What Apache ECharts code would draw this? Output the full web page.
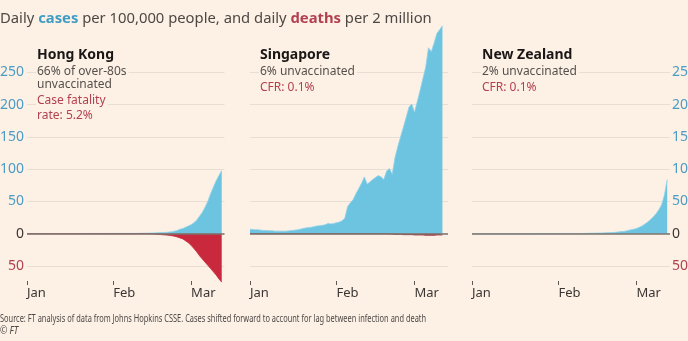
<!DOCTYPE html>
<html>
<head>
<meta charset="utf-8">
<script src="https://cdn.jsdelivr.net/npm/echarts@6/dist/echarts.min.js"></script>
<style>
  html, body { margin: 0; padding: 0; background: #fdf1e6; }
  #chart { width: 688px; height: 341px; }
</style>
</head>
<body>
<div id="chart"></div>
<script>
// Day index 0 = 1 January; axis runs to 13 March
const dayCount = 72;
const days = Array.from({ length: dayCount }, (_, i) => i);
const monthStarts = [0, 31, 59];
const monthLabels = ['Jan', 'Feb', 'Mar'];
const yMin = -50, yMax = 250, yStep = 50;

// Daily cases per 100,000 people (positive) and daily deaths per 2 million (negative)
const hkCases = [
  0.3, 0.3, 0.3, 0.3, 0.3, 0.3, 0.3, 0.3, 0.3, 0.3,
  0.3, 0.3, 0.3, 0.3, 0.3, 0.3, 0.3, 0.3, 0.3, 0.3,
  0.4, 0.4, 0.4, 0.4, 0.4, 0.4, 0.4, 0.4, 0.4, 0.4,
  0.5, 0.5, 0.5, 0.5, 0.5, 0.5, 0.5, 0.5, 0.5, 0.5,
  0.6, 0.7, 0.8, 0.9, 1, 1.1, 1.3, 1.5, 1.7, 1.9,
  2, 2.5, 3, 4, 5, 7, 8, 10, 12, 14,
  17, 21, 27, 33, 41, 50, 62, 72, 82, 90, 98
];
const hkDeaths = [
  0, 0, 0, 0, 0, 0, 0, 0, 0, 0,
  0, 0, 0, 0, 0, 0, 0, 0, 0, 0,
  0, 0, 0, 0, 0, 0, 0, 0, 0, 0,
  0, 0, 0, 0, 0, 0, 0, 0, 0, 0,
  0, 0, 0, 0, 0, -0.3, -0.5, -1, -1.3, -1.7,
  -2, -2.5, -3, -4, -5, -6.5, -8, -11, -14, -18,
  -23, -28, -34, -39, -44, -49, -54, -59, -64, -70, -75
];
const sgCases = [
  7, 6.5, 6, 6, 5.5, 5, 5, 4.5, 4.5, 4,
  4, 4, 4, 4, 4.5, 5, 5.5, 6, 7, 8,
  9, 9.5, 10, 11, 12, 12.5, 13, 14, 16, 15,
  16, 17, 18, 20, 24, 42, 48, 53, 62, 70,
  78, 88, 77, 80, 84, 87, 90, 88, 84, 97,
  101, 92, 118, 135, 150, 165, 180, 196, 201, 188,
  205, 222, 240, 258, 288, 282, 295, 310, 316, 322
];
const sgDeaths = [
  0, 0, 0, 0, 0, 0, 0, 0, 0, 0,
  0, 0, 0, 0, 0, 0, 0, 0, 0, 0,
  0, 0, 0, 0, 0, 0, 0, 0, 0, 0,
  0, 0, 0, 0, 0, 0, 0, 0, 0, 0,
  0, 0, 0, 0, 0, 0, 0, 0, 0, 0,
  -0.5, -0.5, -1, -1, -1, -1.5, -1.5, -1.5, -1.5, -2,
  -2, -2, -2, -2.5, -2.5, -2.5, -2.5, -2, -2, -2
];
const nzCases = [
  0.1, 0.1, 0.1, 0.1, 0.1, 0.1, 0.1, 0.1, 0.1, 0.1,
  0.1, 0.1, 0.1, 0.1, 0.1, 0.1, 0.1, 0.1, 0.1, 0.1,
  0.2, 0.2, 0.2, 0.2, 0.2, 0.2, 0.2, 0.2, 0.2, 0.2,
  0.3, 0.3, 0.3, 0.3, 0.3, 0.3, 0.3, 0.3, 0.3, 0.3,
  0.5, 0.6, 0.7, 0.8, 0.9, 1, 1.1, 1.2, 1.4, 1.6,
  1.8, 2, 2.5, 3, 3.5, 4, 5, 6, 7, 8,
  10, 12, 15, 18, 22, 26, 31, 37, 45, 60, 84
];

const panelNames = ['Hong Kong', 'Singapore', 'New Zealand'];
const panelNotes = [['66% of over-80s', 'unvaccinated'], ['6% unvaccinated'], ['2% unvaccinated']];
const panelCfr = [['Case fatality', 'rate: 5.2%'], ['CFR: 0.1%'], ['CFR: 0.1%']];
const subtitleParts = ['Daily ', 'cases', ' per 100,000 people, and daily ', 'deaths', ' per 2 million'];
const sourceText = 'Source: FT analysis of data from Johns Hopkins CSSE. Cases shifted forward to account for lag between infection and death';
const creditText = '\u00a9 FT';

const BG = '#fdf1e6';
const BLUE = '#6cc4e0';
const RED = '#c8293d';
const BLUE_TXT = '#4a9cc4';
const RED_TXT = '#b3404f';
const GRID = '#e9ded3';
const FONT = '"Noto Sans", "Open Sans", sans-serif';

// Plot areas (one per place), then a thin strip below each carrying the month ticks
const plotBoxes = [
  { left: 27, width: 197.5 },
  { left: 250, width: 198 },
  { left: 472, width: 198 }
];
const grids = plotBoxes.map((b) => ({ left: b.left, width: b.width, top: 72.3, height: 193.7, outerBoundsMode: 'none' }))
  .concat(plotBoxes.map((b) => ({ left: b.left, width: b.width, top: 280, height: 1, outerBoundsMode: 'none' })));

const isMonthStart = (i) => monthStarts.indexOf(i) >= 0;

const xAxes = grids.map((g, k) => {
  const isTickStrip = k >= 3;
  return {
    type: 'category',
    gridIndex: k,
    data: days,
    boundaryGap: false,
    show: isTickStrip,
    axisLine: { show: false },
    axisTick: { show: isTickStrip, interval: (i) => isMonthStart(i), length: 4, lineStyle: { color: '#5e5853', width: 1 } },
    axisLabel: {
      show: isTickStrip,
      interval: (i) => isMonthStart(i),
      formatter: (v, i) => monthLabels[monthStarts.indexOf(i)] || '',
      align: 'left', margin: 6, color: '#3a3533', fontSize: 13, fontFamily: FONT
    },
    splitLine: { show: false }
  };
});

const ySides = ['left', null, 'right'];
const yAxes = grids.map((g, k) => {
  if (k >= 3) {
    return { type: 'value', gridIndex: k, show: false, min: 0, max: 1 };
  }
  const side = ySides[k];
  return {
    type: 'value',
    gridIndex: k,
    position: side === 'right' ? 'right' : 'left',
    min: yMin, max: yMax, interval: yStep,
    axisLine: { show: false },
    axisTick: { show: false },
    axisLabel: {
      show: side !== null,
      formatter: (v) => String(Math.abs(v)),
      color: (v) => (Number(v) > 0 ? BLUE_TXT : Number(v) < 0 ? RED_TXT : '#3a3533'),
      fontSize: 14, fontFamily: FONT,
      margin: side === 'right' ? 2 : 3
    },
    splitLine: { show: true, lineStyle: { color: GRID, width: 1 } }
  };
});

function areaSeries(data, k, color, edge) {
  return {
    type: 'line', xAxisIndex: k, yAxisIndex: k, data: data,
    symbol: 'none', clip: false, silent: true, z: 3,
    lineStyle: { color: edge, width: 0.8 },
    areaStyle: { color: color, opacity: 1 }
  };
}

function baseline(k) {
  return {
    type: 'line', xAxisIndex: k, yAxisIndex: k, data: [], z: 2, silent: true,
    markLine: {
      silent: true, symbol: 'none', label: { show: false },
      lineStyle: { color: '#7a726c', width: 1.6, type: 'solid' },
      data: [{ yAxis: 0 }]
    }
  };
}

const series = [
  baseline(0), baseline(1), baseline(2),
  areaSeries(hkCases, 0, BLUE, '#8fd2e8'),
  areaSeries(hkDeaths, 0, RED, RED),
  areaSeries(sgCases, 1, BLUE, '#8fd2e8'),
  areaSeries(sgDeaths, 1, RED, '#9b3040'),
  areaSeries(nzCases, 2, BLUE, '#8fd2e8')
];

// Panel headings and notes
const graphics = [];
function addText(x, y, text, fill, font) {
  graphics.push({
    type: 'text', x: x, y: y, z: 10, silent: true,
    style: {
      text: text, fill: fill, font: font, verticalAlign: 'middle',
      backgroundColor: BG, padding: [0, 2, 0, 1]
    }
  });
}
plotBoxes.forEach((b, k) => {
  const x = b.left + 9;
  let y = 55;
  addText(x, y, panelNames[k], '#1a1716', 'bold 14px ' + FONT);
  y += 16.5;
  panelNotes[k].forEach((t) => { addText(x, y, t, '#55504c', '12px ' + FONT); y += 13.5; });
  y += 2.5;
  panelCfr[k].forEach((t) => { addText(x, y, t, RED_TXT, '12px ' + FONT); y += 14.5; });
});

// Subtitle with coloured keywords
graphics.push({
  type: 'text', x: 0, y: 19, silent: true,
  style: {
    text: '{a|' + subtitleParts[0] + '}{c|' + subtitleParts[1] + '}{a|' + subtitleParts[2] + '}{d|' + subtitleParts[3] + '}{a|' + subtitleParts[4] + '}',
    verticalAlign: 'middle',
    rich: {
      a: { fill: '#4d4845', font: '14.8px ' + FONT },
      c: { fill: '#3f9cc2', font: 'bold 14.8px ' + FONT },
      d: { fill: '#b3404f', font: 'bold 14.8px ' + FONT }
    }
  }
});

// Source and credit, set in a condensed width
graphics.push({
  type: 'text', x: 0, y: 319, scaleX: 0.675, silent: true,
  style: { text: sourceText, fill: '#4d4845', font: '11px ' + FONT, verticalAlign: 'middle' }
});
graphics.push({
  type: 'text', x: 0, y: 331, scaleX: 0.8, silent: true,
  style: { text: creditText, fill: '#4d4845', font: 'italic 11px ' + FONT, verticalAlign: 'middle' }
});

const chart = echarts.init(document.getElementById('chart'), null, { renderer: 'canvas' });
chart.setOption({
  backgroundColor: BG,
  animation: false,
  grid: grids,
  xAxis: xAxes,
  yAxis: yAxes,
  series: series,
  graphic: graphics
});
</script>
</body>
</html>
